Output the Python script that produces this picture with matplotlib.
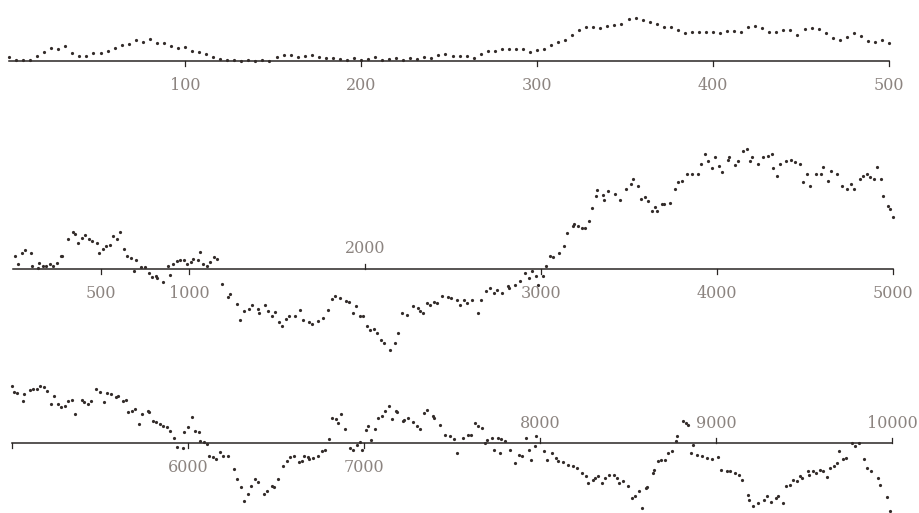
import numpy as np
import matplotlib
matplotlib.use("Agg")
import matplotlib.pyplot as plt

# panel 1: first 500 steps, value read every 4 steps
p1_steps = np.arange(0, 501, 4)
p1_vals = [4, 1, 1, 1, 5, 9, 13, 12, 15, 8,
           5, 5, 8, 8, 10, 13, 16, 17, 21, 19,
           22, 18, 18, 15, 13, 14, 10, 9, 7, 4,
           2, 1, 1, 0, 1, 0, 1, 0, 4, 6,
           6, 4, 5, 6, 4, 3, 3, 2, 1, 3,
           1, 2, 4, 1, 2, 3, 1, 3, 2, 4,
           3, 6, 7, 5, 5, 5, 3, 7, 10, 10,
           12, 12, 12, 12, 9, 11, 12, 16, 19, 21,
           26, 31, 34, 34, 33, 35, 36, 37, 42, 43,
           41, 39, 37, 34, 34, 31, 28, 29, 29, 29,
           29, 28, 30, 30, 29, 34, 35, 33, 29, 29,
           31, 31, 26, 32, 33, 32, 28, 23, 21, 24,
           28, 25, 20, 19, 21, 18]

# panel 2: steps 0-5000
p2_steps = [10, 30, 50, 70, 100, 110, 140, 150, 170, 190,
            210, 230, 250, 270, 280, 310, 340, 350, 370, 390,
            410, 430, 450, 480, 490, 510, 530, 550, 570, 590,
            610, 630, 650, 670, 690, 700, 730, 750, 770, 790,
            810, 820, 850, 880, 890, 910, 930, 950, 970, 990,
            1010, 1020, 1050, 1060, 1080, 1100, 1120, 1140, 1160, 1190,
            1220, 1230, 1270, 1290, 1310, 1340, 1360, 1390, 1400, 1430,
            1450, 1470, 1490, 1510, 1530, 1550, 1570, 1600,
            1630, 1650, 1680, 1700, 1730, 1760, 1790, 1810, 1830, 1860,
            1890, 1910, 1930, 1950, 1970, 1990, 2010, 2030, 2050, 2070,
            2090, 2110, 2140, 2170, 2190, 2210, 2240, 2270, 2300, 2310,
            2330, 2350, 2370, 2390, 2410, 2440, 2470, 2490, 2520, 2540,
            2560, 2580, 2610, 2640, 2660, 2690, 2710, 2730, 2750, 2780,
            2810, 2820, 2850, 2880, 2910, 2930, 2950, 2970, 2980, 3010,
            3030, 3050, 3070, 3100, 3130, 3150, 3180, 3190, 3210, 3230,
            3250, 3270, 3290, 3310, 3320, 3350, 3360, 3380,
            3420, 3450, 3480, 3510, 3520, 3550, 3570, 3590, 3610, 3630,
            3650, 3660, 3690, 3700, 3730, 3760, 3780, 3800, 3830, 3860,
            3890, 3910, 3930, 3950, 3970, 3990, 4010, 4030, 4060, 4070,
            4100, 4120, 4150, 4170, 4190, 4200, 4230, 4260, 4290, 4310,
            4320, 4340, 4360, 4390, 4420, 4440, 4470, 4490, 4510, 4530,
            4560, 4590, 4600, 4630, 4650, 4680, 4710, 4740, 4760, 4780,
            4810, 4830, 4850, 4870, 4890, 4910, 4930, 4940, 4970, 4980,
            5000]
p2_vals = [13, 5, 16, 19, 16, 3, 1, 6, 3, 3,
           5, 3, 6, 13, 13, 30, 37, 35, 26, 31,
           34, 30, 28, 26, 16, 20, 23, 24, 33, 30,
           37, 20, 13, 11, -2, 9, 2, 2, -4, -8,
           -7, -9, -13, 3, -6, 5, 8, 9, 9, 5,
           7, 10, 9, 17, 5, 3, 7, 12, 10, -15,
           -28, -25, -35, -51, -42, -40, -36, -40, -44, -36,
           -42, -47, -43, -53, -57, -50, -47, -47,
           -41, -51, -53, -55, -52, -49, -41, -30, -27, -29,
           -32, -33, -44, -37, -47, -47, -57, -61, -60, -64,
           -71, -74, -81, -74, -64, -44, -46, -37, -39, -42,
           -44, -34, -36, -33, -34, -27, -28, -29, -31, -36,
           -31, -34, -31, -44, -31, -22, -19, -24, -21, -24,
           -17, -19, -16, -12, -4, -9, -2, -7, -16, -7,
           3, 13, 12, 16, 23, 36, 43, 45, 43, 41,
           41, 48, 61, 73, 79, 74, 69, 78,
           75, 69, 80, 85, 90, 83, 70, 72, 68, 58,
           62, 58, 65, 65, 66, 80, 87, 88, 95, 95,
           95, 105, 115, 108, 101, 112, 103, 97, 109, 112,
           104, 108, 118, 120, 108, 112, 105, 112, 113, 115,
           101, 93, 105, 108, 109, 107, 105, 87, 95, 83,
           95, 95, 102, 88, 98, 95, 83, 80, 85, 80,
           90, 93, 95, 92, 90, 102, 90, 73, 63, 60,
           52]

# panel 3: steps 5000-10000
p3_steps = [5000, 5010, 5030, 5060, 5070, 5100, 5120, 5140, 5160, 5180,
            5200, 5220, 5240, 5260, 5280, 5300, 5320, 5340, 5360, 5400,
            5410, 5430, 5450, 5480, 5500, 5520, 5540, 5560, 5590, 5600,
            5630, 5650, 5660, 5680, 5700, 5720, 5740, 5770, 5780, 5800,
            5820, 5840, 5860, 5880, 5900, 5920, 5940, 5970, 5980, 6000,
            6020, 6040, 6060, 6070, 6090, 6110, 6120, 6140, 6160, 6180,
            6200, 6230, 6260, 6280, 6300, 6320, 6340, 6360, 6380, 6400,
            6430, 6450, 6480, 6490, 6510, 6540, 6560, 6580, 6600, 6630,
            6650, 6660, 6680,
            6690, 6710, 6740, 6760, 6780, 6800, 6820, 6840, 6850, 6870,
            6890, 6920, 6940, 6960, 6980, 6990, 7010, 7020, 7040, 7060,
            7080, 7100, 7120, 7140, 7160, 7180, 7190, 7220, 7230, 7250,
            7280, 7300, 7320, 7340, 7360, 7390, 7400, 7430, 7460, 7490,
            7510, 7530, 7560, 7590, 7610, 7630, 7650, 7670, 7690, 7700,
            7730, 7740, 7760, 7770, 7780, 7800, 7830, 7860, 7880, 7900,
            7920, 7940, 7950, 7970, 7980, 8020, 8040, 8070, 8090, 8100,
            8130, 8160, 8190, 8210, 8240, 8260, 8270, 8300, 8310, 8330,
            8350, 8370, 8390,
            8420, 8440, 8450, 8470, 8500, 8520, 8540, 8560, 8580, 8600,
            8610, 8640, 8650, 8670, 8690, 8710, 8730, 8750, 8770, 8780,
            8810, 8830, 8840, 8860, 8870, 8890, 8920, 8950, 8980, 9010,
            9030, 9060, 9080, 9110, 9130, 9150, 9180, 9190, 9210, 9240,
            9270, 9290, 9310, 9340, 9350, 9380, 9400, 9420, 9440, 9460,
            9480, 9490, 9520, 9530, 9550, 9570, 9590, 9610, 9630, 9650,
            9670, 9690, 9700, 9720, 9740, 9770, 9790, 9810, 9840, 9860,
            9880, 9920, 9930, 9970, 9990]
p3_vals = [57, 51, 50, 42, 49, 53, 54, 54, 57, 56,
           52, 39, 47, 39, 36, 37, 42, 43, 29, 43,
           41, 39, 42, 54, 51, 41, 50, 49, 46, 47,
           42, 43, 31, 32, 34, 19, 29, 32, 31, 22,
           21, 19, 17, 16, 12, 5, -4, -5, 11, 16,
           26, 12, 11, 2, 1, -1, -13, -14, -16, -9,
           -13, -13, -26, -36, -44, -58, -51, -43, -36, -39,
           -51, -48, -43, -44, -36, -23, -18, -14, -13, -19,
           -18, -13, -14,
           -16, -15, -13, -8, -7, 4, 25, 24, 20, 29,
           14, -5, -7, -2, 1, -7, 13, 17, 3, 14,
           25, 27, 32, 37, 24, 32, 31, 22, 23, 25,
           21, 17, 14, 30, 33, 27, 25, 18, 8, 7,
           4, -10, 5, 8, 8, 20, 17, 15, 0, 3,
           5, -7, 5, -10, 4, 2, -7, -20, -12, -13,
           5, -7, -17, -3, 7, -8, -17, -10, -15, -18,
           -19, -22, -23, -25, -30, -33, -40, -37, -35, -33,
           -40, -35, -32,
           -32, -35, -40, -38, -43, -55, -53, -48, -65, -45,
           -44, -30, -27, -18, -17, -17, -10, -8, 2, 7,
           22, 20, 18, -10, -2, -12, -13, -15, -16, -14,
           -27, -28, -28, -30, -32, -37, -52, -57, -63, -60,
           -57, -53, -59, -55, -53, -60, -43, -42, -37, -38,
           -33, -35, -28, -32, -28, -30, -27, -28, -34, -25,
           -23, -20, -8, -16, -15, 0, -3, 0, -16, -25,
           -28, -35, -42, -54, -68]

# tick labels: (position, text, above the line?)
p1_ticks = [(100, "100", False), (200, "200", False), (300, "300", False),
            (400, "400", False), (500, "500", False)]
p2_ticks = [(500, "500", False), (1000, "1000", False), (2000, "2000", True),
            (3000, "3000", False), (4000, "4000", False), (5000, "5000", False)]
p3_ticks = [(5000, "", False), (6000, "6000", False), (7000, "7000", False),
            (8000, "8000", True), (9000, "9000", True), (10000, "10000", True)]

dot_color = "#332c2a"
line_color = "#2a2624"
text_color = "#8c8480"

fig = plt.figure(figsize=(9.2, 5.13), dpi=100)
fig.patch.set_facecolor("white")

H = 513.0
panels = [
    # rect, xlim, ylim, steps, vals, ticks, line span
    ([0, 1 - 100 / H, 1, 100 / H], (-5.1, 517.6), (-39, 61),
     p1_steps, p1_vals, p1_ticks, (0, 500)),
    ([0, 1 - 365 / H, 1, 235 / H], (-73.9, 5153), (-96.5, 138.5),
     p2_steps, p2_vals, p2_ticks, (0, 5000)),
    ([0, 0, 1, 143 / H], (4931.8, 10159), (-70, 73),
     p3_steps, p3_vals, p3_ticks, (5000, 10000)),
]

for rect, xlim, ylim, steps, vals, ticks, span in panels:
    ax = fig.add_axes(rect)
    ax.set_xlim(*xlim)
    ax.set_ylim(*ylim)
    ax.axis("off")
    ax.plot(span, [0, 0], color=line_color, lw=1.1, zorder=1)
    ax.plot(steps, vals, "o", color=dot_color, ms=2.3, mec="none", zorder=2)
    for pos, lab, above in ticks:
        if above:
            ax.plot([pos, pos], [0, 5], color=line_color, lw=0.9)
            ax.text(pos, 20, lab, ha="center", va="center", fontsize=11.5,
                    family="DejaVu Serif", color=text_color)
        else:
            ax.plot([pos, pos], [0, -5], color=line_color, lw=0.9)
            ax.text(pos, -25, lab, ha="center", va="center", fontsize=11.5,
                    family="DejaVu Serif", color=text_color)

fig.savefig("out.png", dpi=100, facecolor="white")
